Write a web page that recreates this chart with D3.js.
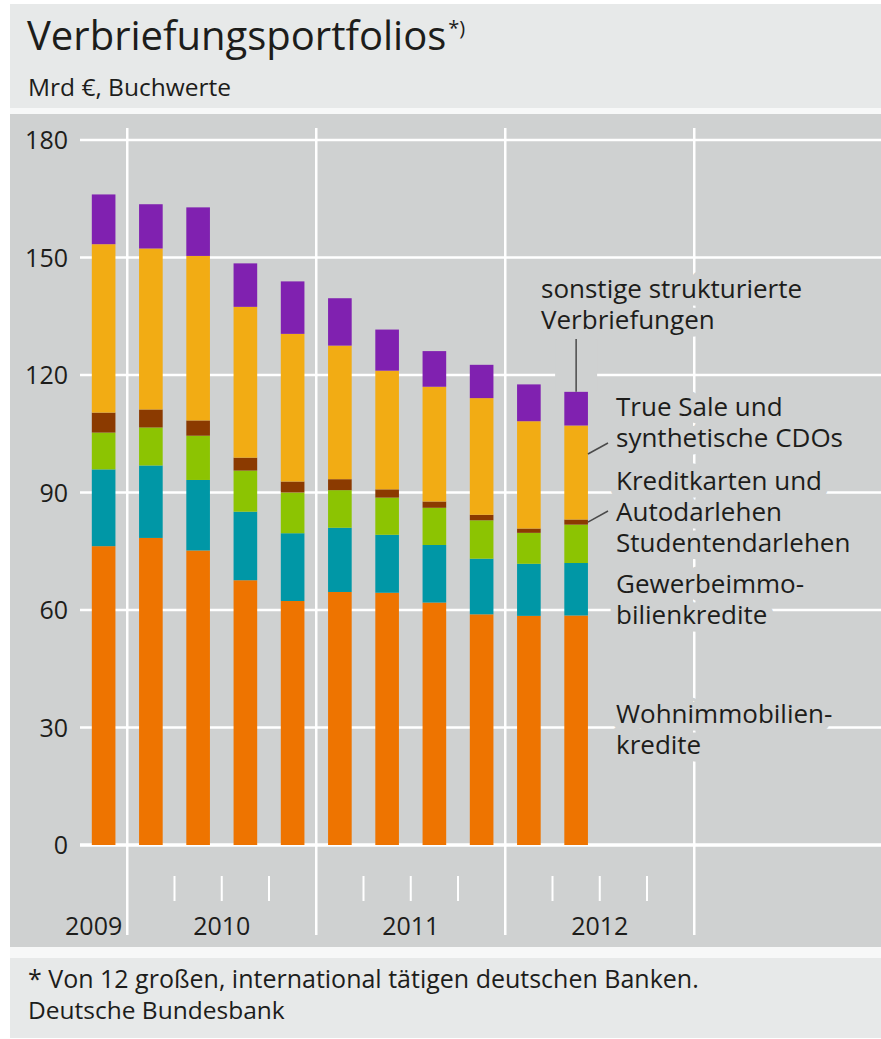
<!DOCTYPE html>
<html>
<head>
<meta charset="utf-8">
<script src="https://cdn.jsdelivr.net/npm/d3@7"></script>
<style>
body { margin: 0; background: #fff; }
svg text { font-family: "Open Sans", sans-serif; fill: #1d1d1b; }
</style>
</head>
<body>
<div id="chart-area"></div>
<script>
/*
*   stacked bar chart, Verbriefungsportfolios
*/
// quarters with data
let quarters = ["2009 Q4", "2010 Q1", "2010 Q2", "2010 Q3", "2010 Q4", "2011 Q1",
                "2011 Q2", "2011 Q3", "2011 Q4", "2012 Q1", "2012 Q2"];
// series, Mrd €
let wohn      = [76.3, 78.4, 75.2, 67.6, 62.3, 64.6, 64.4, 61.9, 58.9, 58.5, 58.6];
let gewerbe   = [19.6, 18.5, 18.0, 17.5, 17.3, 16.4, 14.8, 14.7, 14.2, 13.3, 13.4];
let studenten = [9.4, 9.7, 11.3, 10.5, 10.4, 9.6, 9.5, 9.5, 9.8, 7.9, 9.8];
let kredit    = [5.1, 4.6, 3.9, 3.3, 2.8, 2.8, 2.1, 1.6, 1.4, 1.1, 1.3];
let trueSale  = [43.0, 41.1, 42.0, 38.5, 37.7, 34.1, 30.3, 29.3, 29.8, 27.4, 24.0];
let sonstige  = [12.7, 11.3, 12.4, 11.1, 13.4, 12.1, 10.5, 9.1, 8.5, 9.4, 8.6];

// axis
let axisQuarters = ["2009 Q4",
    "2010 Q1", "2010 Q2", "2010 Q3", "2010 Q4",
    "2011 Q1", "2011 Q2", "2011 Q3", "2011 Q4",
    "2012 Q1", "2012 Q2", "2012 Q3", "2012 Q4",
    "2013 Q1", "2013 Q2", "2013 Q3", "2013 Q4"];
let years = ["2009", "2010", "2011", "2012"];
let yTicks = [0, 30, 60, 90, 120, 150, 180];

let keys = ["wohn", "gewerbe", "studenten", "kredit", "trueSale", "sonstige"];
let colors = {
    wohn: "#ee7400", gewerbe: "#0097a6", studenten: "#8cc402",
    kredit: "#8b3a00", trueSale: "#f2ac14", sonstige: "#8021b0"
};

let W = 881, H = 1039;
let panel = {left: 10, top: 114, right: 881, bottom: 947};
let plot = {left: 80, top: 140, bottom: 845};
let panelColor = "#cfd1d1";

let svg = d3.select("#chart-area")
            .append("svg")
            .attr("width", W)
            .attr("height", H);

// backgrounds
svg.append("rect")
    .attr("x", 10).attr("y", 4)
    .attr("width", W - 10).attr("height", H - 5)
    .attr("fill", "#e7e9e9");
svg.append("rect")
    .attr("x", 10).attr("y", 108)
    .attr("width", W - 10).attr("height", 850)
    .attr("fill", "#f7f8f8");
svg.append("rect")
    .attr("x", panel.left).attr("y", panel.top)
    .attr("width", panel.right - panel.left).attr("height", panel.bottom - panel.top)
    .attr("fill", panelColor);

// title
let title = svg.append("text")
    .attr("x", 27).attr("y", 50)
    .attr("font-size", "40px")
    .text("Verbriefungsportfolios");
title.append("tspan")
    .attr("font-size", "20px")
    .attr("dx", 2)
    .attr("dy", -15)
    .text("*)");
svg.append("text")
    .attr("x", 28).attr("y", 96)
    .attr("font-size", "24.5px")
    .text("Mrd €, Buchwerte");

// footer
svg.append("text")
    .attr("x", 28).attr("y", 988)
    .attr("font-size", "25px")
    .text("* Von 12 großen, international tätigen deutschen Banken.");
svg.append("text")
    .attr("x", 28).attr("y", 1019)
    .attr("font-size", "24.5px")
    .text("Deutsche Bundesbank");

// scales
let x = d3.scaleBand()
        .domain(axisQuarters)
        .range([plot.left, plot.left + axisQuarters.length * 47.25])
        .paddingInner(0.5)
        .paddingOuter(0.25);
let step = x.step();
function qStart(q) { return x(q) - step * 0.25; }

let y = d3.scaleLinear()
        .domain([0, 180])
        .range([plot.bottom, plot.top]);

let g = svg.append("g");

// horizontal gridlines
g.selectAll(".grid")
    .data(yTicks)
    .enter().append("line")
    .attr("x1", plot.left).attr("x2", panel.right)
    .attr("y1", d => y(d)).attr("y2", d => y(d))
    .attr("stroke", "#fff")
    .attr("stroke-width", d => d === 0 ? 3.5 : 2.5);

// y labels
g.selectAll(".ylab")
    .data(yTicks)
    .enter().append("text")
    .attr("x", 68)
    .attr("y", d => y(d) + 9)
    .attr("text-anchor", "end")
    .attr("font-size", "25px")
    .text(d => d);

// year separators (start of each following year)
let yearStarts = years.slice(1).concat(["2013"]);
g.selectAll(".yline")
    .data(yearStarts)
    .enter().append("line")
    .attr("x1", d => qStart(d + " Q1")).attr("x2", d => qStart(d + " Q1"))
    .attr("y1", 128).attr("y2", 935)
    .attr("stroke", "#fff")
    .attr("stroke-width", 2.5);

// quarter ticks inside full years
let tickQuarters = axisQuarters.filter(q => years.indexOf(q.slice(0, 4)) >= 0 && q.slice(5) !== "Q1" && q !== "2009 Q4");
g.selectAll(".qtick")
    .data(tickQuarters)
    .enter().append("line")
    .attr("x1", d => qStart(d)).attr("x2", d => qStart(d))
    .attr("y1", 876).attr("y2", 901)
    .attr("stroke", "#fff")
    .attr("stroke-width", 2);

// year labels
g.selectAll(".year")
    .data(years)
    .enter().append("text")
    .attr("x", function(d){
        if (d === "2009") return qStart("2010 Q1") - 5;
        return (qStart(d + " Q1") + qStart(d + " Q4") + step) / 2;
    })
    .attr("y", 935)
    .attr("text-anchor", d => d === "2009" ? "end" : "middle")
    .attr("font-size", "25px")
    .text(d => d);

// table for stack
let data = quarters.map(function(q, i){
    return {quarter: q, wohn: wohn[i], gewerbe: gewerbe[i], studenten: studenten[i],
            kredit: kredit[i], trueSale: trueSale[i], sonstige: sonstige[i]};
});
let series = d3.stack().keys(keys)(data);
let last = data.length - 1;
let lastQ = quarters[last];
let bw = x.bandwidth();

// gap in gridline round the top leader
let leaderX = x(lastQ) + bw / 2;
g.append("rect")
    .attr("x", leaderX - 21).attr("y", 339)
    .attr("width", 42).attr("height", y(series[5][last][1]) - 339)
    .attr("fill", panelColor);

// labels
let labels = [
    {lines: ["sonstige strukturierte", "Verbriefungen"], x: 541, y: 298},
    {lines: ["True Sale und", "synthetische CDOs"], x: 616, y: 416},
    {lines: ["Kreditkarten und", "Autodarlehen"], x: 616, y: 490},
    {lines: ["Studentendarlehen"], x: 616, y: 552},
    {lines: ["Gewerbeimmo-", "bilienkredite"], x: 616, y: 593},
    {lines: ["Wohnimmobilien-", "kredite"], x: 616, y: 723}
];
labels.forEach(function(l){
    let t = g.append("text")
        .attr("font-size", "26px")
        .attr("stroke", panelColor)
        .attr("stroke-width", 15)
        .attr("stroke-linejoin", "round")
        .attr("paint-order", "stroke");
    l.lines.forEach(function(s, i){
        t.append("tspan")
            .attr("x", l.x)
            .attr("y", l.y + i * 31)
            .text(s);
    });
});

// bars
g.selectAll(".layer")
    .data(series)
    .enter().append("g")
    .attr("fill", d => colors[d.key])
    .selectAll("rect")
    .data(d => d)
    .enter().append("rect")
    .attr("x", d => x(d.data.quarter))
    .attr("width", bw)
    .attr("y", d => y(d[1]))
    .attr("height", d => y(d[0]) - y(d[1]));

// leader lines
let barRight = x(lastQ) + bw;
let brownMid = (series[3][last][0] + series[3][last][1]) / 2;
let leaders = [
    [leaderX, 339, leaderX, y(series[5][last][1])],
    [barRight, 454, 608, 443],
    [barRight, y(brownMid), 608, 511]
];
g.selectAll(".leader")
    .data(leaders)
    .enter().append("line")
    .attr("x1", d => d[0]).attr("y1", d => d[1])
    .attr("x2", d => d[2]).attr("y2", d => d[3])
    .attr("stroke", "#4a4a4a")
    .attr("stroke-width", 1.5);
</script>
</body>
</html>
